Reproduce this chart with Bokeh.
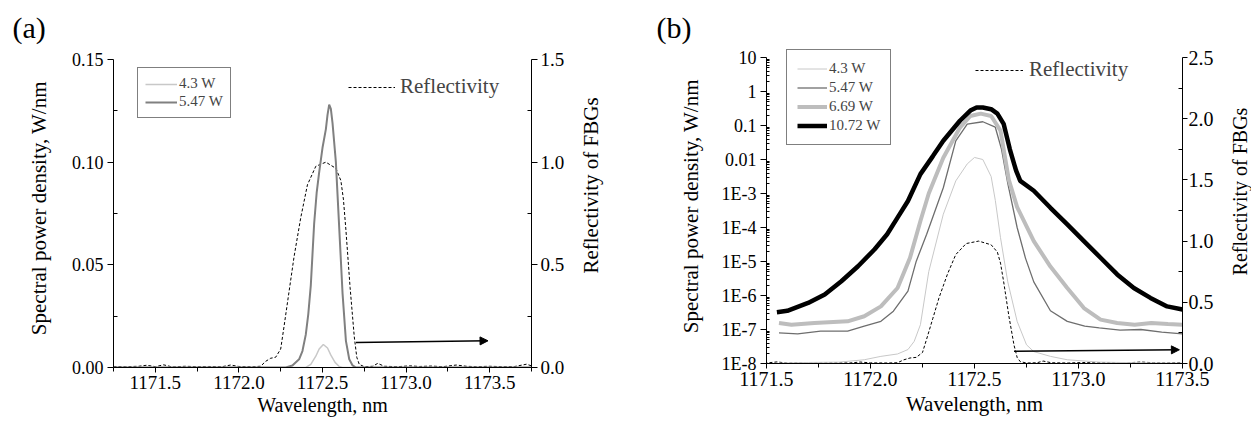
import numpy as np
from bokeh.plotting import figure
from bokeh.layouts import row
from bokeh.models import (Range1d, LinearAxis, LinearScale, FixedTicker, SingleIntervalTicker,
                          PrintfTickFormatter, CustomJSTickFormatter, Legend, LegendItem,
                          Arrow, NormalHead, Plot)
from bokeh.embed import file_html
from bokeh.resources import INLINE

FONT = "Liberation Serif"

# ---------------- data: panel (a), linear scale ----------------
wl_a_43 = [1171.25, 1172.40, 1172.43, 1172.46, 1172.48, 1172.505, 1172.53, 1172.55,
           1172.575, 1172.60, 1172.62, 1173.75]
spd_a_43 = [0.0, 0.0, 0.0015, 0.0055, 0.0090, 0.0112, 0.0095, 0.0060,
            0.0025, 0.0005, 0.0, 0.0]

wl_a_547 = [1171.25, 1172.28, 1172.32, 1172.36, 1172.38, 1172.40, 1172.415, 1172.43,
            1172.45, 1172.465, 1172.48, 1172.50, 1172.52, 1172.53, 1172.54, 1172.55,
            1172.56, 1172.58, 1172.60, 1172.62, 1172.64, 1172.66, 1172.68, 1172.70, 1173.75]
spd_a_547 = [0.0, 0.0, 0.001, 0.004, 0.008, 0.016, 0.026, 0.040,
             0.070, 0.085, 0.095, 0.107, 0.116, 0.123, 0.128, 0.126,
             0.119, 0.100, 0.068, 0.036, 0.013, 0.004, 0.001, 0.0, 0.0]

# reflectivity of FBGs (shared by both panels)
refl_wl = [1171.25, 1171.32, 1171.40, 1171.45, 1171.50, 1171.55, 1171.60, 1171.68,
           1171.75, 1171.82, 1171.90, 1171.95, 1172.00, 1172.08, 1172.13, 1172.16,
           1172.19, 1172.22, 1172.25, 1172.27, 1172.30, 1172.33, 1172.37, 1172.41,
           1172.46, 1172.52, 1172.58, 1172.61, 1172.625, 1172.64, 1172.665, 1172.69,
           1172.705, 1172.72, 1172.75, 1172.80, 1172.83, 1172.87, 1172.95, 1173.02,
           1173.08, 1173.15, 1173.22, 1173.30, 1173.36, 1173.42, 1173.50, 1173.58,
           1173.65, 1173.72, 1173.75]
refl = [0.005, 0.004, 0.006, 0.011, 0.004, 0.013, 0.003, 0.006,
        0.004, 0.005, 0.004, 0.012, 0.005, 0.004, 0.006, 0.030,
        0.045, 0.050, 0.090, 0.200, 0.370, 0.540, 0.730, 0.890,
        0.980, 1.000, 0.970, 0.910, 0.820, 0.670, 0.390, 0.150,
        0.050, 0.015, 0.004, 0.006, 0.020, 0.006, 0.004, 0.008,
        0.005, 0.007, 0.004, 0.012, 0.006, 0.004, 0.006, 0.004,
        0.005, 0.016, 0.008]

# ---------------- data: panel (b), log10 of spectral power density ----------------
wl_b_1072 = [1171.55, 1171.60, 1171.70, 1171.78, 1171.86, 1171.94, 1172.02, 1172.08,
             1172.13, 1172.18, 1172.24, 1172.30, 1172.35, 1172.43, 1172.48, 1172.51,
             1172.54, 1172.58, 1172.61, 1172.64, 1172.67, 1172.70, 1172.72, 1172.785,
             1172.865, 1172.946, 1173.026, 1173.106, 1173.186, 1173.266, 1173.346,
             1173.426, 1173.50]
lg_b_1072 = [-6.49, -6.45, -6.22, -5.97, -5.58, -5.14, -4.64, -4.20,
             -3.71, -3.22, -2.43, -1.90, -1.45, -0.86, -0.56, -0.47,
             -0.47, -0.52, -0.65, -0.95, -1.70, -2.33, -2.63, -2.92,
             -3.42, -3.91, -4.40, -4.89, -5.38, -5.78, -6.07,
             -6.32, -6.41]

wl_b_669 = [1171.56, 1171.62, 1171.73, 1171.89, 1171.97, 1172.05, 1172.13, 1172.19,
            1172.24, 1172.28, 1172.35, 1172.43, 1172.48, 1172.53, 1172.58, 1172.625,
            1172.665, 1172.705, 1172.785, 1172.865, 1172.946, 1173.026, 1173.106,
            1173.186, 1173.27, 1173.35, 1173.43, 1173.50]
lg_b_669 = [-6.81, -6.86, -6.81, -6.76, -6.61, -6.32, -5.78, -4.89,
            -3.81, -3.00, -1.95, -1.06, -0.72, -0.65, -0.72, -1.15,
            -2.60, -3.40, -4.40, -5.15, -5.78, -6.37, -6.71,
            -6.81, -6.86, -6.81, -6.84, -6.86]

wl_b_547 = [1171.56, 1171.65, 1171.76, 1171.89, 1171.97, 1172.05, 1172.11, 1172.18,
            1172.22, 1172.27, 1172.35, 1172.41, 1172.465, 1172.54, 1172.60, 1172.63,
            1172.66, 1172.705, 1172.745, 1172.785, 1172.865, 1172.946, 1173.03,
            1173.10, 1173.20, 1173.30, 1173.40, 1173.50]
lg_b_547 = [-7.10, -7.13, -7.05, -7.05, -6.90, -6.76, -6.46, -5.87,
            -4.99, -4.20, -2.83, -1.45, -0.96, -0.89, -1.05, -1.70,
            -2.70, -4.00, -4.90, -5.60, -6.45, -6.76, -6.90,
            -6.95, -7.02, -7.00, -7.08, -7.13]

wl_b_43 = [1171.56, 1171.70, 1171.85, 1171.97, 1172.05, 1172.13, 1172.18, 1172.21,
           1172.24, 1172.28, 1172.35, 1172.41, 1172.465, 1172.50, 1172.54, 1172.58,
           1172.60, 1172.625, 1172.66, 1172.705, 1172.75, 1172.785, 1172.865,
           1172.946, 1173.10, 1173.30, 1173.50]
lg_b_43 = [-7.99, -7.97, -7.96, -7.89, -7.79, -7.72, -7.59, -7.35,
           -6.86, -5.30, -3.61, -2.63, -2.13, -1.94, -2.00, -2.50,
           -3.20, -4.30, -5.60, -6.76, -7.45, -7.65, -7.79,
           -7.89, -7.96, -7.98, -7.99]

# arrows pointing to the reflectivity axis: (x_start, y_start, x_end, y_end)
arrow_a = (1172.70, 0.122, 1173.49, 0.130)
arrow_b = (1172.69, 0.100, 1173.485, 0.112)

# tick positions / labels
ticks_a_left = [0.0, 0.05, 0.10, 0.15]
minor_a_left = [0.025, 0.075, 0.125]
ticks_a_right = [0.0, 0.5, 1.0, 1.5]
minor_a_right = [0.25, 0.75, 1.25]
ticks_b_right = [0.0, 0.5, 1.0, 1.5, 2.0, 2.5]
minor_b_right = [0.25, 0.75, 1.25, 1.75, 2.25]
log_exps = list(range(-8, 2))

legend_labels = ["4.3 W", "5.47 W", "6.69 W", "10.72 W"]
y_title = "Spectral power density,  W/nm"
y2_title = "Reflectivity of FBGs"
x_title = "Wavelength, nm"

# ---------------- layout (pixels) ----------------
ALIGN_OFF = "frame_align" in Plot.properties()
H = 425
TOP = 43                                  # frame top of both panels (room for legend (b))
# panel (a): axes span x 113..531, y 59..367 ; right title strip 574..620
A_W, A_L, A_R = 574, 113, 43
A_AX_TOP, A_AX_H = 59, 308
A_T2_W, A_T2_L, A_T2_TOP, A_T2_BOT = 46, 28, 100, 270
# panel (b): axes span x 766..1182, y 57..363 ; right title strip 1222..1251
B_W, B_L, B_R = 602, 146, 40
B_AX_TOP, B_AX_H = 57, 306
B_T2_W, B_T2_L, B_T2_TOP, B_T2_BOT = 29, 28, 102, 280
A_EXTRA = A_AX_TOP - TOP
B_EXTRA = B_AX_TOP - TOP
A_BOTTOM = H - A_AX_TOP - A_AX_H
B_BOTTOM = H - B_AX_TOP - B_AX_H
if not ALIGN_OFF:
    A_BOTTOM = B_BOTTOM = 60


def style_axis(ax, tick_size, label_size=21):
    ax.axis_label_text_font = FONT
    ax.axis_label_text_font_style = "normal"
    ax.axis_label_text_font_size = f"{label_size}px"
    ax.axis_label_text_color = "black"
    ax.major_label_text_font = FONT
    ax.major_label_text_font_size = f"{tick_size}px"
    ax.major_label_text_color = "black"
    ax.axis_line_color = "black"
    ax.axis_line_width = 1
    ax.major_tick_line_color = "black"
    ax.minor_tick_line_color = "black"
    ax.major_tick_out = 6
    ax.major_tick_in = 0


def make_fig(width, xr, yr, l, r, t, b, title=None, **kw):
    p = figure(width=width, height=H, x_range=xr, y_range=yr, title=title,
               output_backend="svg", toolbar_location=None,
               min_border_left=l, min_border_right=r, min_border_top=t,
               min_border_bottom=b, **kw)
    if ALIGN_OFF:
        p.frame_align = False
    p.outline_line_color = None
    p.grid.visible = False
    p.background_fill_color = "white"
    p.border_fill_color = "white"
    if title is not None:
        p.title.align = "left"
        p.title.text_font = FONT
        p.title.text_font_size = "30px"
        p.title.text_font_style = "normal"
        p.title.text_color = "black"
        p.title.standoff = 0
    return p


def title_strip(width, left, top, bottom, text, size):
    """Narrow figure whose only content is a vertical axis title read bottom-to-top."""
    f = make_fig(width, Range1d(0, 1), Range1d(0, 1), left, 0, top, H - bottom)
    f.xaxis.visible = False
    ax = f.yaxis[0]
    ax.ticker = FixedTicker(ticks=[])
    ax.axis_line_color = None
    ax.major_tick_line_color = None
    ax.minor_tick_line_color = None
    ax.major_tick_out = 0
    ax.minor_tick_out = 0
    ax.major_label_standoff = 0
    ax.axis_label = text
    ax.axis_label_standoff = 0
    ax.axis_label_text_font = FONT
    ax.axis_label_text_font_style = "normal"
    ax.axis_label_text_font_size = f"{size}px"
    ax.axis_label_text_color = "black"
    return f


# ================= panel (a) =================
spd_a_lo, spd_a_hi = 0.0, 0.15
refl_a_lo, refl_a_hi = 0.0, 1.5
xr_a = Range1d(1171.25, 1173.75)
yr_a = Range1d(spd_a_lo, spd_a_hi + A_EXTRA * (spd_a_hi - spd_a_lo) / A_AX_H)
p1 = make_fig(A_W, xr_a, yr_a, A_L, A_R, TOP, A_BOTTOM, "(a)")
p1.title.offset = -101
p1.extra_y_ranges = {"refl": Range1d(refl_a_lo, refl_a_hi + A_EXTRA * (refl_a_hi - refl_a_lo) / A_AX_H)}
p1.extra_y_scales = {"refl": LinearScale()}

r_ref_a = p1.line(refl_wl, refl, y_range_name="refl", line_color="black",
                  line_width=1, line_dash="3 2")
r43a = p1.line(wl_a_43, spd_a_43, line_color="#c8c8c8", line_width=1.5)
r547a = p1.line(wl_a_547, spd_a_547, line_color="#808080", line_width=2)

xa = p1.xaxis[0]
xa.ticker = SingleIntervalTicker(interval=0.5, num_minor_ticks=2)
xa.formatter = PrintfTickFormatter(format="%.1f")
xa.axis_label = x_title
style_axis(xa, 19, label_size=20)
xa.major_tick_out = 5
xa.minor_tick_out = 4
xa.minor_tick_in = 0
xa.major_label_standoff = 3
xa.axis_label_standoff = 2

ya = p1.yaxis[0]
ya.ticker = FixedTicker(ticks=ticks_a_left, minor_ticks=minor_a_left)
ya.formatter = PrintfTickFormatter(format="%.2f")
ya.bounds = (spd_a_lo, spd_a_hi)
ya.axis_label = y_title
style_axis(ya, 18)
ya.minor_tick_out = 0
ya.minor_tick_in = 4
ya.major_label_standoff = 4
ya.axis_label_standoff = 18

ra = LinearAxis(y_range_name="refl",
                ticker=FixedTicker(ticks=ticks_a_right, minor_ticks=minor_a_right),
                formatter=PrintfTickFormatter(format="%.1f"), bounds=(refl_a_lo, refl_a_hi))
style_axis(ra, 19)
ra.minor_tick_out = 0
ra.minor_tick_in = 4
ra.major_label_standoff = 3
p1.add_layout(ra, "right")

A_FRAME_BOTTOM = H - A_BOTTOM
leg_a = Legend(items=[LegendItem(label=legend_labels[0], renderers=[r43a]),
                      LegendItem(label=legend_labels[1], renderers=[r547a])],
               location=(24, A_FRAME_BOTTOM - 118),
               border_line_color="black", border_line_width=1,
               background_fill_color="white", background_fill_alpha=1,
               label_text_font=FONT, label_text_font_size="15px",
               glyph_width=32, glyph_height=16, label_height=16, label_standoff=2,
               spacing=1, padding=7, margin=0)
p1.add_layout(leg_a, "center")

leg_ra = Legend(items=[LegendItem(label="Reflectivity", renderers=[r_ref_a])],
                location=(235, A_FRAME_BOTTOM - 99),
                border_line_color=None, background_fill_alpha=0,
                label_text_font=FONT, label_text_font_size="21px",
                glyph_width=47, glyph_height=20, label_height=20, label_standoff=5,
                padding=0, margin=0)
p1.add_layout(leg_ra, "center")

p1.add_layout(Arrow(end=NormalHead(size=8, fill_color="black", line_color="black"),
                    x_start=arrow_a[0], y_start=arrow_a[1], x_end=arrow_a[2], y_end=arrow_a[3],
                    y_range_name="refl", line_color="black", line_width=1.5))

t2_a = title_strip(A_T2_W, A_T2_L, A_T2_TOP, A_T2_BOT, y2_title, 21)

# ================= panel (b) =================
spd_lo, spd_hi = 1e-8, 10.0
refl_lo, refl_hi = 0.0, 2.5
dec_pp = (np.log10(spd_hi) - np.log10(spd_lo)) / B_AX_H
xr_b = Range1d(1171.5, 1173.5)
yr_b = Range1d(spd_lo, spd_hi * 10 ** (B_EXTRA * dec_pp))
p2 = make_fig(B_W, xr_b, yr_b, B_L, B_R, TOP, B_BOTTOM, "(b)", y_axis_type="log")
p2.title.offset = -110
p2.extra_y_ranges = {"refl": Range1d(refl_lo, refl_hi + B_EXTRA * (refl_hi - refl_lo) / B_AX_H)}
p2.extra_y_scales = {"refl": LinearScale()}

r_ref_b = p2.line(refl_wl, refl, y_range_name="refl", line_color="black",
                  line_width=1, line_dash="3 2")
r43b = p2.line(wl_b_43, 10.0 ** np.array(lg_b_43), line_color="#c8c8c8", line_width=1)
r547b = p2.line(wl_b_547, 10.0 ** np.array(lg_b_547), line_color="#6e6e6e", line_width=1.3)
r669b = p2.line(wl_b_669, 10.0 ** np.array(lg_b_669), line_color="#bdbdbd", line_width=4)
r1072b = p2.line(wl_b_1072, 10.0 ** np.array(lg_b_1072), line_color="black", line_width=4.5)

xb = p2.xaxis[0]
xb.ticker = SingleIntervalTicker(interval=0.5, num_minor_ticks=2)
xb.formatter = PrintfTickFormatter(format="%.1f")
xb.axis_label = x_title
style_axis(xb, 20)
xb.major_tick_out = 5
xb.minor_tick_out = 4
xb.minor_tick_in = 0
xb.major_label_standoff = 3
xb.axis_label_standoff = 3

yb = p2.yaxis[0]
major_log = [10.0 ** e for e in log_exps]
minor_log = [k * 10.0 ** e for e in log_exps[:-1] for k in range(2, 10)]
yb.ticker = FixedTicker(ticks=major_log, minor_ticks=minor_log)
yb.bounds = (spd_lo, spd_hi)
yb.formatter = CustomJSTickFormatter(code="""
const e = Math.round(Math.log10(tick));
if (e >= 0) return Math.pow(10, e).toFixed(0);
if (e >= -2) return tick.toFixed(-e);
return "1E" + e;
""")
yb.axis_label = y_title
style_axis(yb, 18)
yb.minor_tick_out = 0
yb.minor_tick_in = 3
yb.major_label_standoff = 4
yb.axis_label_standoff = 16

rb = LinearAxis(y_range_name="refl",
                ticker=FixedTicker(ticks=ticks_b_right, minor_ticks=minor_b_right),
                formatter=PrintfTickFormatter(format="%.1f"), bounds=(refl_lo, refl_hi))
style_axis(rb, 20)
rb.major_tick_out = 5
rb.minor_tick_out = 0
rb.minor_tick_in = 4
rb.major_label_standoff = 1
p2.add_layout(rb, "right")

B_FRAME_BOTTOM = H - B_BOTTOM
leg_b = Legend(items=[LegendItem(label=legend_labels[0], renderers=[r43b]),
                      LegendItem(label=legend_labels[1], renderers=[r547b]),
                      LegendItem(label=legend_labels[2], renderers=[r669b]),
                      LegendItem(label=legend_labels[3], renderers=[r1072b])],
               location=(20, B_FRAME_BOTTOM - 145), border_line_color="black", border_line_width=1,
               background_fill_color="white", background_fill_alpha=1,
               label_text_font=FONT, label_text_font_size="15px",
               glyph_width=30, glyph_height=17, label_height=17, label_standoff=2,
               spacing=2, padding=10, margin=0)
p2.add_layout(leg_b, "center")

leg_rb = Legend(items=[LegendItem(label="Reflectivity", renderers=[r_ref_b])],
                location=(209, B_FRAME_BOTTOM - 82), border_line_color=None, background_fill_alpha=0,
                label_text_font=FONT, label_text_font_size="21px",
                glyph_width=48, glyph_height=20, label_height=20, label_standoff=6,
                padding=0, margin=0)
p2.add_layout(leg_rb, "center")

p2.add_layout(Arrow(end=NormalHead(size=8, fill_color="black", line_color="black"),
                    x_start=arrow_b[0], y_start=arrow_b[1], x_end=arrow_b[2], y_end=arrow_b[3],
                    y_range_name="refl", line_color="black", line_width=1.5))

t2_b = title_strip(B_T2_W, B_T2_L, B_T2_TOP, B_T2_BOT, y2_title, 20)

layout = row(p1, t2_a, p2, t2_b, spacing=0)
open("out.html", "w").write(file_html(layout, INLINE))
